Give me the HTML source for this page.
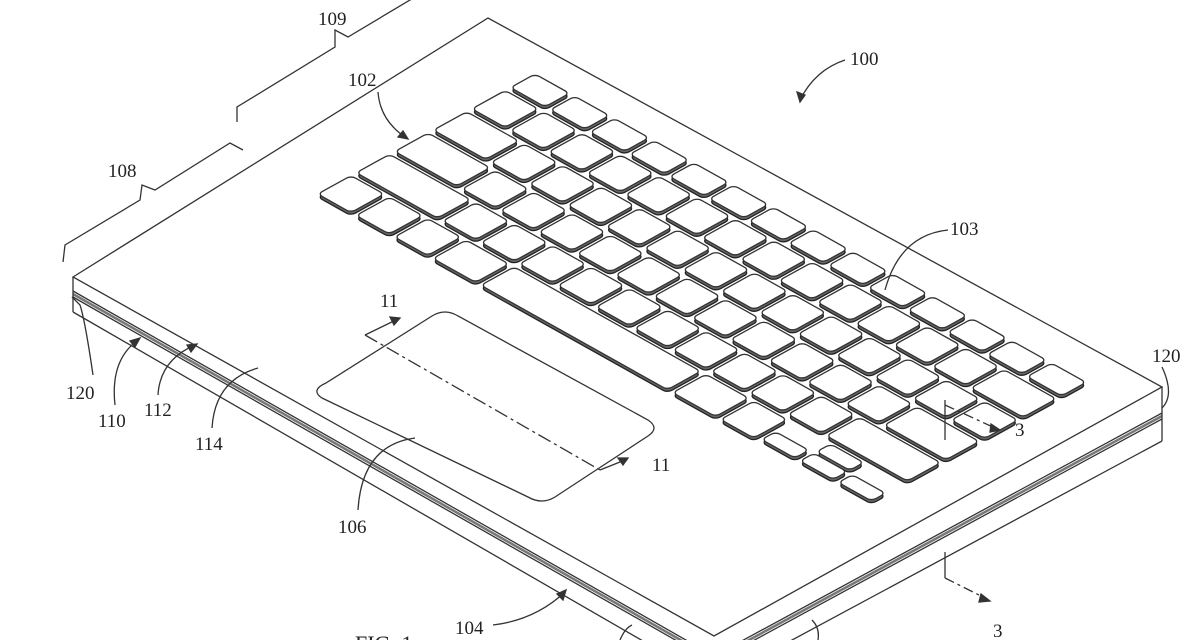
<!DOCTYPE html>
<html><head><meta charset="utf-8"><style>
html,body{margin:0;padding:0;background:#fff;width:1200px;height:640px;overflow:hidden}
svg{display:block}
text{font-family:"Liberation Serif",serif;font-size:19px;fill:#222}
</style></head><body>
<svg id="s" width="1200" height="640" viewBox="0 0 1200 640" xmlns="http://www.w3.org/2000/svg">
<g fill="none" stroke="#333" stroke-width="1.3">
<polygon points="73,277 488,18 1162,387 714,636" fill="#fff"/>
<polyline points="73,291 714,656 1162,413"/>
<polyline points="73,294 714,659 1162,416" stroke="#777" stroke-width="2.5"/>
<polyline points="73,297 714,662 1162,419"/>
<polyline points="73,312 714,682 1162,441"/>
<line x1="73" y1="277" x2="73" y2="312"/>
<line x1="1162" y1="387" x2="1162" y2="441"/>
<polyline points="63,262 65,245 140,200 142,185 155,190 230,143 243,150"/>
<polyline points="237,122 237,107 335,47 335,30 348,37 415,-3"/>
<path d="M326,383 L432,316 Q445,308 458,316 L648,420 Q660,428 648,436 L555,497 Q542,505 528,497 L322,398 Q310,390 326,383 Z"/>
<path d="M365,335 L600,470" stroke-dasharray="14,4,3,4"/>
<path d="M365,335 L400,318" /><path d="M400,318 l-10,-1 l4,8 z" fill="#333"/>
<path d="M600,470 L625,460"/><path d="M628,458 l-10,0 l5,7 z" fill="#333"/>
<path d="M945,552 L945,578"/>
<path d="M945,578 L985,598" stroke-dasharray="10,4,3,4"/><path d="M990,601 l-9,-7 l-2,8 z" fill="#333"/>
<path d="M845,60 Q815,70 800,100"/><path d="M800,102 l-3,-10 l8,3 z" fill="#333"/>
<path d="M378,92 Q380,120 405,137"/><path d="M408,139 l-10,-2 l5,-6 z" fill="#333"/>
<path d="M1162,367 Q1175,395 1162,408"/>
<path d="M93,375 Q85,320 80,305 Q70,295 73,298"/>
<path d="M115,405 Q110,360 138,340"/><path d="M140,338 l-10,3 l5,6 z" fill="#333"/>
<path d="M158,395 Q160,360 195,345"/><path d="M197,344 l-10,1 l4,7 z" fill="#333"/>
<path d="M212,428 Q215,380 258,368"/>
<path d="M358,510 Q362,445 415,438"/>
<path d="M493,625 Q535,620 565,592"/><path d="M566,590 l-9,4 l6,6 z" fill="#333"/>
<path d="M620,640 Q625,628 632,625"/>
<path d="M818,640 Q820,628 812,620"/>
</g>
<g id="keys"></g>
<g fill="none" stroke="#333" stroke-width="1.3">
<path d="M948,230 Q900,235 885,290"/>
<path d="M945,400 L945,440"/>
<path d="M945,405 L995,428" stroke-dasharray="10,4,3,4"/><path d="M1000,430 l-9,-6 l-1,8 z" fill="#333"/>
</g>
<text x="318" y="25">109</text>
<text x="108" y="177">108</text>
<text x="348" y="86">102</text>
<text x="850" y="65">100</text>
<text x="950" y="235">103</text>
<text x="1152" y="362">120</text>
<text x="66" y="399">120</text>
<text x="98" y="427">110</text>
<text x="144" y="416">112</text>
<text x="195" y="450">114</text>
<text x="338" y="533">106</text>
<text x="455" y="634">104</text>
<text x="380" y="307">11</text>
<text x="652" y="471">11</text>
<text x="1015" y="436">3</text>
<text x="993" y="637">3</text>
<text x="355" y="651" style="font-size:22px">FIG. 1</text>
</svg>
<script>
(function(){
var U=44,g=6,rows=[];
var f=14.5/14,r0=[];for(var i=0;i<14;i++)r0.push(f);
rows.push({y:0,h:28,k:r0});
var r1=[];for(i=0;i<13;i++)r1.push(1);r1.push(1.5);
var r2=[1.5];for(i=0;i<13;i++)r2.push(1);
var r3=[1.75];for(i=0;i<11;i++)r3.push(1);r3.push(1.75);
var r4=[2.25];for(i=0;i<10;i++)r4.push(1);r4.push(2.25);
var ks=[r1,r2,r3,r4];
for(i=0;i<4;i++)rows.push({y:34+i*44,h:38,k:ks[i]});
var rects=[];
rows.forEach(function(r){var x=0;r.k.forEach(function(w){rects.push([x,r.y,w*U-g,r.h]);x+=w*U;});});
var fy=34+4*44,x=0;[1,1,1,1.25,5,1.25,1].forEach(function(w){rects.push([x,fy,w*U-g,38]);x+=w*U;});
rects.push([x,fy+19,U-g,16]);rects.push([x+U,fy,U-g,16]);rects.push([x+U,fy+19,U-g,16]);rects.push([x+2*U,fy+19,U-g,16]);
var M="matrix(0.872,0.488,-0.876,0.484,535,74)";
function grp(off,fill,st){var s='<g transform="translate(0,'+off+')"><g transform="'+M+'">';
rects.forEach(function(r){s+='<rect x="'+r[0]+'" y="'+r[1]+'" width="'+r[2]+'" height="'+r[3]+'" rx="5" fill="'+fill+'" stroke="'+st+'" stroke-width="1.3" vector-effect="non-scaling-stroke"/>';});
return s+'</g></g>';}
document.getElementById('keys').innerHTML=grp(3,'#666','#222')+grp(0,'#fff','#333');
})();
</script>
</body></html>
